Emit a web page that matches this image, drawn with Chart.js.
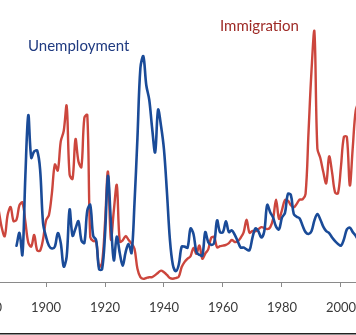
<!DOCTYPE html>
<html>
<head>
<meta charset="utf-8">
<script src="https://cdn.jsdelivr.net/npm/chart.js@4.4.1/dist/chart.umd.min.js"></script>
<style>
  html, body { margin: 0; padding: 0; background: #fff; }
  #wrap { position: relative; width: 356px; height: 335px; overflow: hidden; }
</style>
</head>
<body>
<div id="wrap"><canvas id="chart" width="356" height="335"></canvas></div>
<script>
// --- data ---
// Immigration, thousands of arrivals per year, from 1884
const immigrationStart = 1884;
const immigration = [
  519, 395, 334, 490, 547, 444,
  455, 560, 580, 440, 286, 259, 343, 231, 229, 312,
  449, 488, 649, 857, 813, 1026, 1101, 1285, 783, 752,
  1042, 879, 838, 1198, 1218, 327, 299, 295, 111, 141,
  430, 805, 310, 523, 707, 294, 304, 335, 307, 280,
  242, 97, 36, 23, 29, 35, 36, 50, 68, 83,
  71, 52, 29, 24, 29, 38, 109, 147, 171, 188,
  249, 206, 266, 170, 208, 238, 322, 327, 253, 261,
  265, 271, 284, 306, 292, 297, 323, 362, 454, 359,
  373, 370, 385, 400, 395, 386, 399, 462, 601, 460,
  525, 597, 594, 560, 544, 570, 602, 602, 643, 1091,
  1536, 1827, 974, 904, 804, 720, 916, 798, 654, 647,
  841, 1059, 1059, 704, 980, 1250, 1300, 1100
];

// Unemployment rate, percent, from 1890
const unemploymentStart = 1890;
const unemployment = [
  4.0, 5.4, 3.0, 11.7, 18.4, 13.7, 14.4, 14.5, 12.4, 6.5,
  5.0, 4.0, 3.7, 3.9, 5.4, 4.3, 1.7, 2.8, 8.0, 5.1,
  5.9, 6.7, 4.6, 4.3, 7.9, 8.5, 5.1, 4.6, 1.4, 1.4,
  5.2, 11.7, 6.7, 2.4, 5.0, 3.2, 1.8, 3.3, 4.2, 3.2,
  8.7, 15.9, 23.6, 24.9, 21.7, 20.1, 16.9, 14.3, 19.0, 17.2,
  14.6, 9.9, 4.7, 1.9, 1.2, 1.9, 3.9, 3.9, 3.8, 5.9,
  5.3, 3.3, 3.0, 2.9, 5.5, 4.4, 4.1, 4.3, 6.8, 5.5,
  5.5, 6.7, 5.5, 5.7, 5.2, 4.5, 3.8, 3.8, 3.6, 3.5,
  4.9, 5.9, 5.6, 4.9, 5.6, 8.5, 7.7, 7.1, 6.1, 5.8,
  7.1, 7.6, 9.7, 9.6, 7.5, 7.2, 7.0, 6.2, 5.5, 5.3,
  5.6, 6.8, 7.5, 6.9, 6.1, 5.6, 5.4, 4.9, 4.5, 4.2,
  4.0, 4.7, 5.8, 6.0, 5.5, 5.1, 4.6, 4.6
];

const xTickYears = [1880, 1900, 1920, 1940, 1960, 1980, 2000, 2020];
const seriesNames = ['Unemployment', 'Immigration'];

// --- colours ---
const blue = '#1A4B98';
const red = '#CC463D';

// series labels drawn inside the plot + bottom frame line
const annotate = {
  id: 'annotate',
  afterDraw(chart) {
    const ctx = chart.ctx;
    ctx.save();
    ctx.font = '15px Lato';
    ctx.textBaseline = 'alphabetic';
    ctx.fillStyle = '#1F3A80';
    ctx.fillText(seriesNames[0], 28, 51);
    ctx.fillStyle = '#9E2A26';
    ctx.fillText(seriesNames[1], 220, 31);
    ctx.fillStyle = '#222';
    ctx.fillRect(0, 333, chart.width, 1.5);
    ctx.restore();
  }
};

const toPoints = (start, arr) => arr.map((v, i) => ({ x: start + i, y: v }));

new Chart(document.getElementById('chart'), {
  type: 'line',
  data: {
    datasets: [
      {
        label: seriesNames[0],
        data: toPoints(unemploymentStart, unemployment),
        borderColor: blue,
        borderWidth: 2.6,
        yAxisID: 'yU'
      },
      {
        label: seriesNames[1],
        data: toPoints(immigrationStart, immigration),
        borderColor: red,
        borderWidth: 2.4,
        yAxisID: 'yI'
      }
    ]
  },
  options: {
    responsive: false,
    animation: false,
    events: [],
    layout: { padding: { left: 0, right: 0, top: 0, bottom: 6.4 } },
    elements: {
      point: { radius: 0 },
      line: { tension: 0.35, borderCapStyle: 'round', borderJoinStyle: 'round', fill: false }
    },
    plugins: { legend: { display: false }, tooltip: { enabled: false } },
    scales: {
      x: {
        type: 'linear',
        min: 1884.4,
        max: 2005.1,
        afterBuildTicks: s => { s.ticks = xTickYears.map(v => ({ value: v })); },
        afterFit: s => { s.paddingLeft = 0; s.paddingRight = 0; },
        ticks: {
          autoSkip: false,
          maxRotation: 0,
          padding: 13,
          color: '#3a3a3a',
          font: { family: 'Lato', size: 13 },
          callback: v => String(v)
        },
        grid: { drawOnChartArea: false, drawTicks: true, tickLength: 5, color: '#8a8a8a' },
        border: { display: true, color: '#8a8a8a', width: 1 }
      },
      yU: { display: false, min: 0, max: 31.1 },
      yI: { display: false, min: 0, max: 2057 }
    }
  },
  plugins: [annotate]
});
</script>
</body>
</html>
